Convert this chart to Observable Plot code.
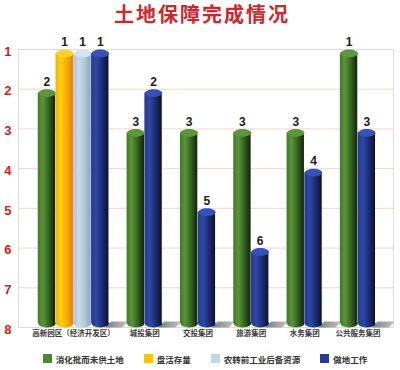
<!DOCTYPE html>
<html>
<head>
<meta charset="utf-8">
<script src="https://cdn.jsdelivr.net/npm/d3@7"></script>
<script src="https://cdn.jsdelivr.net/npm/@observablehq/plot@0.6"></script>
<style>
  html, body { margin: 0; padding: 0; background: #fff; }
  body { width: 400px; height: 370px; overflow: hidden; }
  #title { height: 30px; line-height: 28px; text-align: center; font-family: "Noto Sans CJK SC", sans-serif; font-weight: 700; font-size: 20px; letter-spacing: 2px; color: #d0262c; padding-left: 4px; box-sizing: border-box; }
  #chart svg { display: block; }
  #legend { height: 23px; display: flex; align-items: center; justify-content: center; gap: 20px; padding-left: 10px; font-family: "Noto Sans CJK SC", sans-serif; font-size: 8.5px; font-weight: 700; color: #333; }
  #legend .item { display: flex; align-items: center; gap: 4px; }
  #legend .sw { width: 9px; height: 9px; display: inline-block; }
</style>
</head>
<body>
<div id="title">土地保障完成情况</div>
<div id="chart"></div>
<div id="legend"></div>
<script>
// ---- data ----
const categories = ["高新园区（经济开发区）", "城投集团", "交投集团", "旅游集团", "水务集团", "公共服务集团"];
const seriesNames = ["消化批而未供土地", "盘活存量", "农转前工业后备资源", "做地工作"];
const xiaohua   = [2, 3, 3, 3, 3, 1];
const panhuo    = [1, null, null, null, null, null];
const nongzhuan = [1, null, null, null, null, null];
const zuodi     = [1, 2, 5, 6, 4, 3];
const yTicks = [1, 2, 3, 4, 5, 6, 7, 8];
const legendColors = ["#4a8a2e", "#ffc400", "#c2d6e8", "#24399a"];

// ---- build slots ----
const seriesValues = [xiaohua, panhuo, nongzhuan, zuodi];
const bars = [];
const groups = [];
let slot = 1;
categories.forEach((cat, ci) => {
  const start = slot;
  seriesNames.forEach((s, si) => {
    const v = seriesValues[si][ci];
    if (v == null) return;
    bars.push({cat, series: s, top: s + "-top", value: v, base: 8, x1: slot, x2: slot + 1, xc: slot + 0.5});
    slot += 1;
  });
  groups.push({cat, center: (start + slot) / 2, end: slot, base: 8});
  slot += 1; // gap
});
const centerToName = new Map(groups.map(g => [g.center, g.cat]));

const W = 400, H = 317, ML = 18, MR = 7, MT = 19, MB = 20;
const xDomain = [-0.1, 21];
const slotPx = (W - ML - MR) / (xDomain[1] - xDomain[0]);
const rx = slotPx / 2 - 0.2;
const ry = rx * 0.45;

const K = 0.5523;
const ellipse = {
  draw(ctx, size) {
    const a = Math.sqrt(size / Math.PI), b = a * 0.45;
    ctx.moveTo(a, 0);
    ctx.bezierCurveTo(a, b * K, a * K, b, 0, b);
    ctx.bezierCurveTo(-a * K, b, -a, b * K, -a, 0);
    ctx.bezierCurveTo(-a, -b * K, -a * K, -b, 0, -b);
    ctx.bezierCurveTo(a * K, -b, a, -b * K, a, 0);
    ctx.closePath();
  }
};
const shadowShape = {
  draw(ctx, size) {
    ctx.moveTo(-4, 0);
    ctx.lineTo(13, 0);
    ctx.lineTo(19, -6);
    ctx.lineTo(2, -6);
    ctx.closePath();
  }
};

const colorKeys = [...seriesNames, ...seriesNames.map(s => s + "-top")];
const colorRange = ["url(#gGreen)", "url(#gYellow)", "url(#gLight)", "url(#gBlue)",
                    "#5b983b", "#ffd42a", "#d6e4ef", "#3652b8"];

const plot = Plot.plot({
  width: W, height: H,
  marginLeft: ML, marginRight: MR, marginTop: MT, marginBottom: MB,
  x: {domain: xDomain},
  y: {domain: [1, 8], reverse: true},
  color: {type: "ordinal", domain: colorKeys, range: colorRange},
  marks: [
    Plot.gridY(yTicks, {stroke: "#efd8cf", strokeOpacity: 1, strokeWidth: 1}),
    Plot.frame({stroke: "#dcdcdc"}),
    Plot.dot(groups, {x: "end", y: "base", symbol: shadowShape, r: 5, fill: "url(#gShadow)", stroke: "none"}),
    Plot.rect(bars, {x1: "x1", x2: "x2", y1: "base", y2: "value", fill: "series", insetTop: ry, insetBottom: ry, insetLeft: 0.2, insetRight: 0.2}),
    Plot.dot(bars, {x: "xc", y: "base", symbol: ellipse, r: rx, fill: "series", stroke: "none", dy: -ry}),
    Plot.dot(bars, {x: "xc", y: "value", symbol: ellipse, r: rx, fill: "top", stroke: "none", dy: ry}),
    Plot.text(bars, {x: "xc", y: "value", text: d => String(d.value), dy: -7, fill: "#1a1a1a", fontSize: 12, fontWeight: "bold", fontFamily: "Liberation Sans, Arial, sans-serif"}),
    Plot.axisY(yTicks, {tickSize: 0, tickPadding: 7, fill: "#d42020", fontSize: 13, fontWeight: "bold", fontFamily: "Liberation Sans, Arial, sans-serif", tickFormat: d => String(d), dy: 2}),
    Plot.axisX(groups.map(g => g.center), {tickSize: 0, tickPadding: 3, tickFormat: d => centerToName.get(d), fill: "#3a3a3a", fontSize: 7.5, fontWeight: "bold", fontFamily: "Noto Sans CJK SC, sans-serif"})
  ]
});

const defs = `
<defs>
  <linearGradient id="gGreen" x1="0" x2="1" y1="0" y2="0">
    <stop offset="0" stop-color="#3f7a27"/>
    <stop offset="0.28" stop-color="#5a9538"/>
    <stop offset="0.55" stop-color="#3e7026"/>
    <stop offset="0.85" stop-color="#1f3d12"/>
    <stop offset="1" stop-color="#11240a"/>
  </linearGradient>
  <linearGradient id="gYellow" x1="0" x2="1" y1="0" y2="0">
    <stop offset="0" stop-color="#f4b200"/>
    <stop offset="0.3" stop-color="#ffcf10"/>
    <stop offset="0.6" stop-color="#f9b000"/>
    <stop offset="0.88" stop-color="#ef8c00"/>
    <stop offset="1" stop-color="#de7600"/>
  </linearGradient>
  <linearGradient id="gLight" x1="0" x2="1" y1="0" y2="0">
    <stop offset="0" stop-color="#a9c2d6"/>
    <stop offset="0.3" stop-color="#c9dbe9"/>
    <stop offset="0.65" stop-color="#b2c8da"/>
    <stop offset="1" stop-color="#8da3b7"/>
  </linearGradient>
  <linearGradient id="gBlue" x1="0" x2="1" y1="0" y2="0">
    <stop offset="0" stop-color="#24388f"/>
    <stop offset="0.3" stop-color="#2f48a8"/>
    <stop offset="0.6" stop-color="#1f2f7a"/>
    <stop offset="0.88" stop-color="#111b48"/>
    <stop offset="1" stop-color="#090f2c"/>
  </linearGradient>
  <linearGradient id="gShadow" x1="0" x2="1" y1="0" y2="0">
    <stop offset="0" stop-color="#7d7d7d"/>
    <stop offset="1" stop-color="#c4c4c4"/>
  </linearGradient>
</defs>`;
plot.insertAdjacentHTML("afterbegin", defs);
document.getElementById("chart").appendChild(plot);

// legend
const legend = d3.select("#legend");
seriesNames.forEach((s, i) => {
  const item = legend.append("div").attr("class", "item");
  item.append("span").attr("class", "sw").style("background", legendColors[i]);
  item.append("span").text(s);
});
</script>
</body>
</html>
